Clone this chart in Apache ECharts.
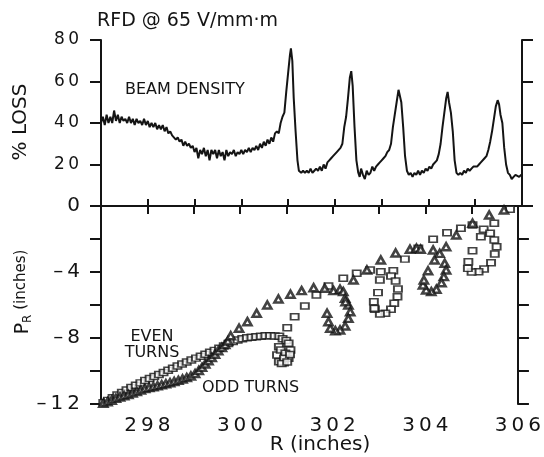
<!DOCTYPE html>
<html><head><meta charset="utf-8">
<script src="https://cdn.jsdelivr.net/npm/echarts@6/dist/echarts.min.js"></script>
<style>html,body{margin:0;padding:0;background:#fff}#c{width:544px;height:457px}</style>
</head><body><div id="c"></div>
<script>
// ---- data ----
const lossR = [297.00,297.04,297.08,297.12,297.16,297.20,297.24,297.28,297.32,297.36,297.40,297.44,297.48,297.52,297.56,297.60,297.64,297.68,297.72,297.76,297.80,297.84,297.88,297.92,297.96,298.00,298.04,298.08,298.12,298.16,298.20,298.24,298.28,298.32,298.36,298.40,298.44,298.48,298.52,298.56,298.60,298.64,298.68,298.72,298.76,298.80,298.84,298.88,298.92,298.96,299.00,299.04,299.08,299.12,299.16,299.20,299.24,299.28,299.32,299.36,299.40,299.44,299.48,299.52,299.56,299.60,299.64,299.68,299.72,299.76,299.80,299.84,299.88,299.92,299.96,300.00,300.04,300.08,300.12,300.16,300.20,300.24,300.28,300.32,300.36,300.40,300.44,300.48,300.52,300.56,300.60,300.64,300.68,300.72,300.76,300.80,300.84,300.88,300.92,300.96,301.00,301.04,301.06,301.09,301.12,301.16,301.20,301.23,301.28,301.32,301.36,301.40,301.44,301.48,301.52,301.56,301.60,301.64,301.68,301.72,301.76,301.80,301.84,301.88,301.92,301.96,302.00,302.04,302.08,302.12,302.16,302.20,302.24,302.28,302.32,302.35,302.38,302.42,302.46,302.50,302.53,302.56,302.60,302.64,302.68,302.72,302.76,302.80,302.84,302.88,302.92,302.96,303.00,303.04,303.08,303.12,303.16,303.20,303.24,303.28,303.32,303.36,303.39,303.42,303.46,303.50,303.54,303.58,303.62,303.66,303.70,303.74,303.78,303.82,303.86,303.90,303.94,303.98,304.02,304.06,304.10,304.14,304.18,304.22,304.26,304.30,304.34,304.38,304.41,304.44,304.48,304.52,304.56,304.60,304.64,304.68,304.72,304.76,304.80,304.84,304.88,304.92,304.96,305.00,305.04,305.08,305.12,305.16,305.20,305.24,305.28,305.32,305.36,305.40,305.44,305.48,305.51,305.54,305.58,305.62,305.66,305.70,305.74,305.78,305.82,305.86,305.90,305.94,305.98,306.00];
const lossPct = [40,43,39,44,40,43,40,46,41,44,40,43,41,42,40,43,40,42,39,42,40,41,39,42,39,41,38,40,38,40,37,39,37,39,36,38,35,36,34,34,32,33,31,32,29,31,29,30,28,29,26,28,23,27,25,28,24,27,22,27,25,27,23,27,24,26,22,27,24,26,25,27,24,26,25,27,25,27,26,28,26,28,27,29,27,30,28,31,29,32,30,33,31,35,36,35,40,43,45,55,64,73,76,70,52,36,22,17,16,17,16,17,16,18,16,17,18,17,19,17,20,18,21,22,23,24,25,26,26,28,30,38,43,52,62,65,58,38,22,16,14,18,15,13,17,15,16,19,17,19,20,21,22,23,24,26,27,30,38,44,50,56,56,50,38,24,17,15,16,14,16,15,17,15,17,16,18,17,19,18,20,20,22,25,30,38,45,52,55,50,45,36,22,16,15,16,15,17,16,18,17,18,19,19,19,20,21,21,23,24,27,31,36,42,48,51,49,44,40,28,20,16,15,13,14,15,15,14,15,15];

const evenR = [297.05,297.15,297.25,297.35,297.45,297.55,297.65,297.75,297.85,297.95,298.05,298.15,298.25,298.35,298.45,298.55,298.65,298.75,298.85,298.95,299.05,299.15,299.25,299.35,299.45,299.55,299.65,299.75,299.85,299.95,300.05,300.15,300.25,300.35,300.45,300.55,300.65,300.75,300.85,
  300.92,301.00,300.84,301.05,301.09,301.05,300.95,300.84,300.80,300.88,300.98,300.95,301.08,300.90,301.02,
  301.02,301.18,301.40,301.65,301.91,302.23,302.52,302.81,
  303.04,303.31,303.26,303.36,303.41,303.40,303.33,303.26,303.14,303.02,302.91,302.90,302.89,302.98,303.02,
  303.56,303.85,304.17,304.47,304.77,
  305.02,305.26,305.20,305.40,305.49,305.49,305.54,305.50,305.42,305.27,305.15,305.00,304.92,304.93,305.02,305.83];
const evenP = [-11.92,-11.78,-11.62,-11.45,-11.30,-11.15,-11.00,-10.86,-10.72,-10.58,-10.45,-10.33,-10.21,-10.09,-9.96,-9.83,-9.70,-9.58,-9.46,-9.34,-9.22,-9.10,-8.98,-8.87,-8.75,-8.62,-8.48,-8.34,-8.22,-8.12,-8.05,-7.99,-7.95,-7.92,-7.89,-7.87,-7.87,-7.88,-7.90,
  -8.05,-8.15,-8.53,-8.32,-8.73,-9.23,-9.50,-9.44,-9.03,-8.73,-8.93,-9.23,-9.00,-9.55,-9.45,
  -7.38,-6.71,-6.06,-5.39,-4.85,-4.38,-4.08,-3.88,
  -3.98,-3.92,-4.24,-4.55,-5.03,-5.50,-5.90,-6.26,-6.50,-6.55,-6.26,-6.20,-5.80,-5.25,-4.48,
  -3.22,-2.56,-2.02,-1.62,-1.35,
  -1.15,-1.41,-1.86,-1.65,-1.05,-2.06,-2.47,-2.91,-3.44,-3.82,-3.98,-4.00,-3.78,-3.38,-2.71,-0.20];

const oddR = [297.05,297.14,297.23,297.32,297.41,297.50,297.59,297.68,297.77,297.86,297.95,298.04,298.13,298.22,298.31,298.40,298.49,298.58,298.67,298.76,298.85,298.94,299.03,299.11,299.18,299.25,299.32,299.39,299.46,299.53,299.61,299.68,299.74,
  299.80,299.98,300.16,300.36,300.59,300.83,301.09,301.33,301.59,301.83,302.02,
  302.16,302.23,302.27,302.34,302.38,302.34,302.27,302.16,302.06,301.95,301.91,301.88,302.28,
  302.45,302.74,303.04,303.36,303.67,303.81,303.90,
  304.17,304.31,304.45,304.20,304.42,304.45,304.40,304.35,304.24,304.13,304.02,303.95,303.97,304.06,
  304.67,305.02,305.38,305.70];
const oddP = [-11.96,-11.87,-11.77,-11.66,-11.58,-11.50,-11.42,-11.34,-11.25,-11.16,-11.07,-11.00,-10.95,-10.89,-10.83,-10.77,-10.71,-10.64,-10.57,-10.49,-10.40,-10.30,-10.16,-9.97,-9.78,-9.58,-9.38,-9.18,-8.98,-8.78,-8.58,-8.40,-8.18,
  -7.86,-7.41,-7.01,-6.50,-6.00,-5.64,-5.35,-5.13,-4.95,-4.99,-5.13,
  -5.05,-5.19,-5.59,-6.00,-6.41,-6.81,-7.27,-7.52,-7.56,-7.41,-7.01,-6.50,-5.80,
  -4.48,-3.88,-3.27,-2.85,-2.62,-2.56,-2.62,
  -2.67,-2.87,-2.47,-3.27,-3.47,-3.88,-4.28,-4.65,-5.05,-5.19,-5.09,-4.79,-4.48,-3.92,
  -1.76,-1.05,-0.55,-0.24];

const rTickLabels = [298,300,302,304,306];
const lossTickLabels = [20,40,60,80];
const prTickLabels = [-12,-8,-4,0];

// ---- chart ----
const INK = '#141414';
const FAM = '"DejaVu Sans", sans-serif';
const spaced = v => String(v).replace('-', '\u2013').split('').join('\u2009');
const pairs = (a, b) => a.map((x, i) => [x, b[i]]);
const lineW = 2;
const axLine = {show: true, lineStyle: {color: INK, width: lineW}};
const noSplit = {show: false};
const tickOut = len => ({show: true, length: len, lineStyle: {color: INK, width: lineW}});
const txt = (x, y, text, size, align, rot) => ({
  type: 'text', x: x, y: y, rotation: rot || 0,
  style: {text: text, fill: INK, fontSize: size, fontFamily: FAM,
          textAlign: align, textVerticalAlign: 'middle', align: align, verticalAlign: 'middle'}
});

const chart = echarts.init(document.getElementById('c'), null, {renderer: 'canvas'});
chart.setOption({
  animation: false,
  backgroundColor: '#fff',
  grid: [
    {left: 101, top: 40, width: 421, height: 166},
    {left: 101, top: 206, width: 421, height: 198}
  ],
  xAxis: [
    {gridIndex: 0, type: 'value', position: 'top', min: 297, max: 306, interval: 1,
     axisLine: axLine, axisTick: tickOut(7), axisLabel: {show: false}, splitLine: noSplit},
    {gridIndex: 0, type: 'value', position: 'bottom', min: 297, max: 306, interval: 1,
     axisLine: axLine, axisTick: {show: false}, axisLabel: {show: false}, splitLine: noSplit},
    {gridIndex: 1, type: 'value', position: 'top', min: 297, max: 306, interval: 1,
     axisLine: axLine, axisTick: {show: false}, axisLabel: {show: false}, splitLine: noSplit},
    {gridIndex: 1, type: 'value', position: 'bottom', min: 297, max: 306, interval: 1,
     axisLine: axLine, axisTick: tickOut(8),
     axisLabel: {show: true, margin: 12, color: INK, fontFamily: FAM, fontSize: 20,
       formatter: v => rTickLabels.includes(Math.round(v)) && Math.abs(v - Math.round(v)) < 1e-6 ? spaced(Math.round(v)) : ''},
     splitLine: noSplit}
  ],
  yAxis: [
    {gridIndex: 0, type: 'value', position: 'left', min: 0, max: 80, interval: 20,
     axisLine: axLine, axisTick: tickOut(11),
     axisLabel: {show: true, margin: 22, color: INK, fontFamily: FAM, fontSize: 17,
       formatter: v => lossTickLabels.includes(v) ? spaced(v) : ''},
     splitLine: noSplit},
    {gridIndex: 0, type: 'value', position: 'right', min: 0, max: 80, interval: 20,
     axisLine: axLine, axisTick: tickOut(11), axisLabel: {show: false}, splitLine: noSplit},
    {gridIndex: 1, type: 'value', position: 'left', min: -12, max: 0, interval: 2,
     axisLine: axLine, axisTick: tickOut(11),
     axisLabel: {show: true, margin: 21, color: INK, fontFamily: FAM, fontSize: 20,
       formatter: v => prTickLabels.includes(v) ? spaced(v) : ''},
     splitLine: noSplit},
    {gridIndex: 1, type: 'value', position: 'right', min: -12, max: 0, interval: 2,
     axisLine: axLine, axisTick: tickOut(11), axisLabel: {show: false}, splitLine: noSplit}
  ],
  series: [
    {type: 'line', xAxisIndex: 0, yAxisIndex: 0, data: pairs(lossR, lossPct),
     showSymbol: false, symbol: 'none', lineStyle: {color: INK, width: 2}, z: 3},
    {type: 'scatter', xAxisIndex: 3, yAxisIndex: 2, data: pairs(evenR, evenP),
     symbol: 'rect', symbolSize: [8, 6],
     itemStyle: {color: '#fff', borderColor: INK, borderWidth: 1.7}, z: 3},
    {type: 'scatter', xAxisIndex: 3, yAxisIndex: 2, data: pairs(oddR, oddP),
     symbol: 'triangle', symbolSize: [8, 7],
     itemStyle: {color: '#fff', borderColor: INK, borderWidth: 2.6}, z: 4}
  ],
  graphic: [
    txt(97, 21, 'RFD @ 65 V/mm\u00b7m', 19, 'left'),
    txt(21, 122, '% LOSS', 20, 'center', Math.PI / 2),
    {type: 'text', x: 24, y: 292, rotation: Math.PI / 2,
     style: {text: '{p|P}{r|R}{i| (inches)}', fill: INK, fontFamily: FAM,
             textAlign: 'center', textVerticalAlign: 'middle', align: 'center', verticalAlign: 'middle',
             rich: {
               p: {fontSize: 19, fontFamily: FAM, fill: INK, lineHeight: 20, verticalAlign: 'top'},
               r: {fontSize: 12, fontFamily: FAM, fill: INK, lineHeight: 12, verticalAlign: 'bottom'},
               i: {fontSize: 15, fontFamily: FAM, fill: INK, lineHeight: 20, verticalAlign: 'top'}
             }}},
    txt(125, 90, 'BEAM DENSITY', 16, 'left'),
    txt(152, 337, 'EVEN', 16, 'center'),
    txt(152, 353, 'TURNS', 16, 'center'),
    txt(202, 388, 'ODD TURNS', 16, 'left'),
    txt(320, 445, 'R (inches)', 20, 'center')
  ]
});
</script>
</body></html>
